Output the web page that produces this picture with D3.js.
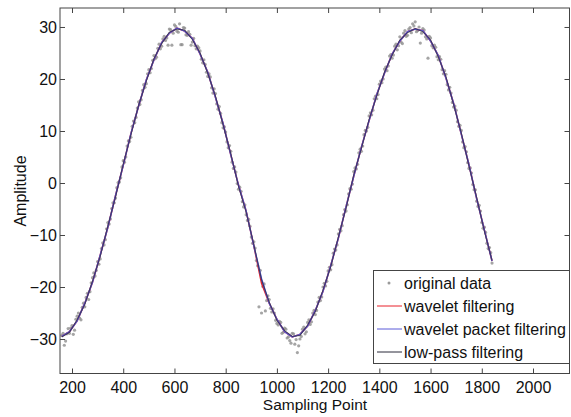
<!DOCTYPE html>
<html>
<head>
<meta charset="utf-8">
<script src="https://cdn.jsdelivr.net/npm/d3@7"></script>
<style>
  body { margin: 0; background: #fff; }
  svg { display: block; font-family: "Liberation Sans", Arial, sans-serif; }
</style>
</head>
<body>
<script>

var width = 571,
    height = 417;

// sampling points of the filtered curves
var filterX = [160, 190, 220, 250, 280, 310, 340, 370, 400, 430, 460, 490, 520, 550, 580,
    610, 640, 670, 700, 730, 760, 790, 820, 850, 880, 910, 940, 970, 1000, 1030,
    1060, 1090, 1120, 1150, 1180, 1210, 1240, 1270, 1300, 1330, 1360, 1390, 1420,
    1450, 1480, 1510, 1540, 1570, 1600, 1630, 1660, 1690, 1720, 1750, 1780, 1810, 1840];

var lowPass = [-29.6, -28.7, -26.3, -23.3, -18.9, -14.1, -8.3, -2.6, 3.6, 9.3, 14.9, 19.6,
    23.9, 26.8, 29.0, 29.6, 29.4, 27.6, 25.0, 21.1, 16.7, 11.2, 5.6, -0.6, -5.6, -11.9,
    -18.6, -22.9, -26.4, -28.4, -29.5, -29.3, -27.3, -24.7, -20.6, -16.1, -10.4, -4.8,
    1.5, 6.7, 12.2, 16.8, 21.3, 24.6, 27.5, 28.9, 29.7, 29.1, 27.5, 24.3, 20.4, 15.1,
    9.6, 3.3, -2.8, -9.2, -14.9];

var packet = [-29.5, -28.6, -26.5, -23.1, -19.1, -13.9, -8.5, -2.4, 3.4, 9.5, 14.8, 19.8,
    23.7, 27.0, 28.8, 29.8, 29.2, 27.8, 24.8, 21.3, 16.5, 11.4, 5.4, -0.4, -5.4, -12.1,
    -18.4, -23.1, -26.2, -28.6, -29.6, -29.1, -27.5, -24.5, -20.8, -15.9, -10.6, -4.6,
    1.3, 6.9, 12.0, 17.0, 21.1, 24.8, 27.3, 29.1, 29.6, 29.3, 27.3, 24.5, 20.2, 15.3,
    9.4, 3.5, -3.0, -9.0, -15.0];

var wavelet = [-29.5, -28.6, -26.5, -23.1, -19.1, -13.9, -8.5, -2.4, 3.4, 9.5, 14.8, 19.8,
    23.7, 27.0, 28.8, 29.8, 29.2, 27.8, 24.8, 21.3, 16.5, 11.4, 5.4, -0.4, -5.4, -12.1,
    -19.3, -23.1, -26.2, -28.6, -29.6, -29.1, -27.5, -24.5, -20.8, -15.9, -10.6, -4.6,
    1.3, 6.9, 12.0, 17.0, 21.1, 24.8, 27.3, 29.1, 29.6, 29.3, 27.3, 24.5, 20.2, 15.3,
    9.4, 3.5, -3.0, -9.0, -15.0];

// original noisy data, one value every 10 samples from 160 to 1840
var rawA = [
    -29.3, -31.2, -29.0, -28.9, -27.4, -28.3, -25.6, -26.0, -23.9, -23.8, -21.2, -20.9,
    -18.2, -17.9, -15.1, -14.6, -11.5, -10.9, -7.6, -6.9, -3.8, -2.9, 0.1, 1.0,
    4.3, 5.0, 8.1, 8.8, 11.9, 12.6, 15.6, 16.0, 18.9, 19.1, 21.8, 22.0,
    24.5, 24.2, 26.7, 26.3, 28.2, 27.9, 29.6, 26.5, 30.4, 29.2, 30.6, 26.6,
    29.8, 28.4, 28.6, 27.1, 26.4, 26.3, 25.4, 23.1, 22.8, 20.5, 20.4, 17.3,
    17.2, 14.2, 13.4, 10.6, 9.8, 6.8, 6.1, 2.8, 2.1, -1.2, -1.6, -4.6,
    -6.1, -7.0, -10.4, -11.3, -14.9, -23.8, -25.0, -19.4, -22.6, -22.4, -24.8, -25.0,
    -27.0, -26.6, -28.9, -27.9, -29.8, -30.3, -28.9, -31.0, -32.6, -30.0, -28.1, -29.0,
    -26.8, -27.2, -25.0, -25.3, -22.9, -22.6, -20.0, -19.8, -16.9, -16.7, -13.5, -12.9,
    -9.8, -9.2, -6.1, -5.4, -2.1, -1.2, 2.2, 2.7, 5.8, 6.1, 9.3, 10.0,
    12.9, 13.1, 16.2, 16.2, 19.0, 19.3, 21.9, 21.6, 24.4, 24.0, 26.3, 25.6,
    28.1, 26.8, 29.3, 28.4, 29.9, 30.6, 31.0, 29.3, 26.9, 29.7, 28.1, 24.0,
    27.9, 26.0, 26.1, 23.7, 23.8, 21.0, 20.9, 17.9, 17.3, 14.6, 14.0, 10.9,
    10.1, 6.8, 6.0, 2.8, 1.9, -1.3, -3.5, -4.3, -7.6, -8.5, -11.6, -12.4,
    -15.4];

// original noisy data, the samples in between (165 to 1835)
var rawB = [
    -28.9, -30.4, -28.0, -27.9, -29.1, -26.2, -25.0, -26.3, -23.1, -22.0, -22.4, -19.2,
    -17.3, -16.8, -15.6, -12.6, -11.9, -8.8, -7.9, -4.9, -3.8, -0.9, 0.2, 3.1,
    4.0, 7.1, 8.0, 10.9, 11.6, 14.4, 15.1, 17.8, 18.4, 21.0, 21.2, 23.6,
    23.9, 25.9, 25.8, 27.7, 27.4, 26.5, 29.5, 28.8, 30.1, 29.0, 26.6, 29.9,
    28.5, 29.1, 26.5, 27.8, 25.8, 26.0, 23.8, 23.7, 21.3, 21.0, 18.3, 18.1,
    15.2, 14.7, 11.6, 10.8, 7.9, 7.2, 4.0, 3.1, -0.1, -0.8, -3.6, -4.2,
    -7.2, -8.3, -11.6, -12.5, -15.9, -16.8, -19.9, -24.6, -21.7, -24.1, -24.2, -26.4,
    -27.3, -26.8, -28.7, -28.1, -29.6, -30.8, -29.0, -30.1, -31.3, -29.5, -27.7, -28.6,
    -26.3, -26.7, -24.5, -24.5, -22.0, -21.9, -19.3, -18.9, -16.2, -15.7, -12.7, -11.9,
    -8.9, -8.2, -5.1, -4.2, -1.1, -0.2, 2.9, 3.6, 6.5, 7.1, 10.1, 10.7,
    13.5, 14.0, 16.7, 17.0, 19.6, 20.0, 22.3, 22.5, 24.7, 24.6, 26.7, 26.4,
    27.1, 28.8, 28.2, 29.6, 28.9, 30.2, 29.1, 30.0, 28.8, 29.4, 27.7, 28.2,
    26.4, 26.5, 24.3, 24.3, 21.8, 21.6, 18.9, 18.4, 15.5, 14.8, 11.8, 11.1,
    7.9, 7.0, 3.9, 2.9, -0.3, -1.3, -4.5, -5.4, -8.7, -9.5, -12.6, -13.4];

var rawAStart = 160, rawBStart = 165, rawStep = 10;

var xTicks = [200, 400, 600, 800, 1000, 1200, 1400, 1600, 1800, 2000];
var yTicks = [-30, -20, -10, 0, 10, 20, 30];

var legendLabels = ['original data', 'wavelet filtering', 'wavelet packet filtering', 'low-pass filtering'];

var plot = {left: 60, top: 8, right: 569.5, bottom: 373.5};

var x = d3.scaleLinear()
    .domain([153.1, 2142.5])
    .range([plot.left, plot.right]);

var y = d3.scaleLinear()
    .domain([-36.63, 33.65])
    .range([plot.bottom, plot.top]);

var svg = d3.select('body')
    .append('svg')
    .attr('width', width)
    .attr('height', height);

var rawPoints = rawA.map(function(d, i) { return {s: rawAStart + i * rawStep, v: d}; })
    .concat(rawB.map(function(d, i) { return {s: rawBStart + i * rawStep, v: d}; }));

// original data points
svg.append('g')
    .selectAll('circle')
    .data(rawPoints)
    .enter()
    .append('circle')
    .attr('cx', function(d) { return x(d.s); })
    .attr('cy', function(d) { return y(d.v); })
    .attr('r', 1.6)
    .style('fill', '#8e8e8e')
    .style('opacity', 0.8);

var line = d3.line()
    .x(function(d, i) { return x(filterX[i]); })
    .y(function(d) { return y(d); });

var series = [
    {values: wavelet, color: '#e8202a', w: 1.5, op: 1},
    {values: packet, color: '#5a5ad8', w: 1.5, op: 1},
    {values: lowPass, color: '#2a2a3a', w: 1.1, op: 0.7}
];

series.forEach(function(s) {
    svg.append('path')
        .datum(s.values)
        .attr('d', line)
        .style('fill', 'none')
        .style('stroke', s.color)
        .style('stroke-width', s.w)
        .style('opacity', s.op);
});

// box with inward ticks on all four sides, like matlab
var axisColor = '#444';
var fmt = d3.format('d');

svg.append('g')
    .attr('transform', 'translate(0,' + plot.bottom + ')')
    .call(d3.axisBottom(x).tickValues(xTicks).tickFormat(fmt).tickSizeInner(-5).tickSizeOuter(0).tickPadding(8))
    .call(function(g) { g.select('.domain').remove(); });

svg.append('g')
    .attr('transform', 'translate(0,' + plot.top + ')')
    .call(d3.axisTop(x).tickValues(xTicks).tickSizeInner(-5).tickSizeOuter(0).tickFormat(''))
    .call(function(g) { g.select('.domain').remove(); });

svg.append('g')
    .attr('transform', 'translate(' + plot.left + ',0)')
    .call(d3.axisLeft(y).tickValues(yTicks).tickFormat(fmt).tickSizeInner(-5).tickSizeOuter(0).tickPadding(3))
    .call(function(g) { g.select('.domain').remove(); });

svg.append('g')
    .attr('transform', 'translate(' + plot.right + ',0)')
    .call(d3.axisRight(y).tickValues(yTicks).tickSizeInner(-5).tickSizeOuter(0).tickFormat(''))
    .call(function(g) { g.select('.domain').remove(); });

svg.selectAll('.tick line').style('stroke', axisColor);
svg.selectAll('.tick text')
    .style('font-size', '16px')
    .style('font-family', '"Liberation Sans", Arial, sans-serif')
    .style('fill', '#111');

svg.append('rect')
    .attr('x', plot.left)
    .attr('y', plot.top)
    .attr('width', plot.right - plot.left)
    .attr('height', plot.bottom - plot.top)
    .style('fill', 'none')
    .style('stroke', axisColor)
    .style('stroke-width', 1);

svg.append('text')
    .attr('x', 315)
    .attr('y', 410)
    .attr('text-anchor', 'middle')
    .style('font-size', '15.5px')
    .style('fill', '#111')
    .text('Sampling Point');

svg.append('text')
    .attr('transform', 'translate(26,191) rotate(-90)')
    .attr('text-anchor', 'middle')
    .style('font-size', '16px')
    .style('fill', '#111')
    .text('Amplitude');

// legend
var legend = svg.append('g');

legend.append('rect')
    .attr('x', 373.5)
    .attr('y', 270.5)
    .attr('width', 196)
    .attr('height', 93)
    .style('fill', '#fff')
    .style('stroke', axisColor);

var rowY = d3.scaleLinear().domain([0, 3]).range([283, 352]);
var legendColors = [null, '#e8202a', '#5a5ad8', '#2a2a3a'];

legendLabels.forEach(function(label, i) {
    if (i === 0) {
        legend.append('circle')
            .attr('cx', 389)
            .attr('cy', rowY(i))
            .attr('r', 1.5)
            .style('fill', '#9a9a9a');
    } else {
        legend.append('line')
            .attr('x1', 377)
            .attr('x2', 402)
            .attr('y1', rowY(i))
            .attr('y2', rowY(i))
            .style('stroke', legendColors[i])
            .style('stroke-width', 1);
    }
    legend.append('text')
        .attr('x', 404)
        .attr('y', rowY(i))
        .attr('dy', '0.35em')
        .style('font-size', '16px')
        .style('fill', '#111')
        .text(label);
});

</script>
</body>
</html>
